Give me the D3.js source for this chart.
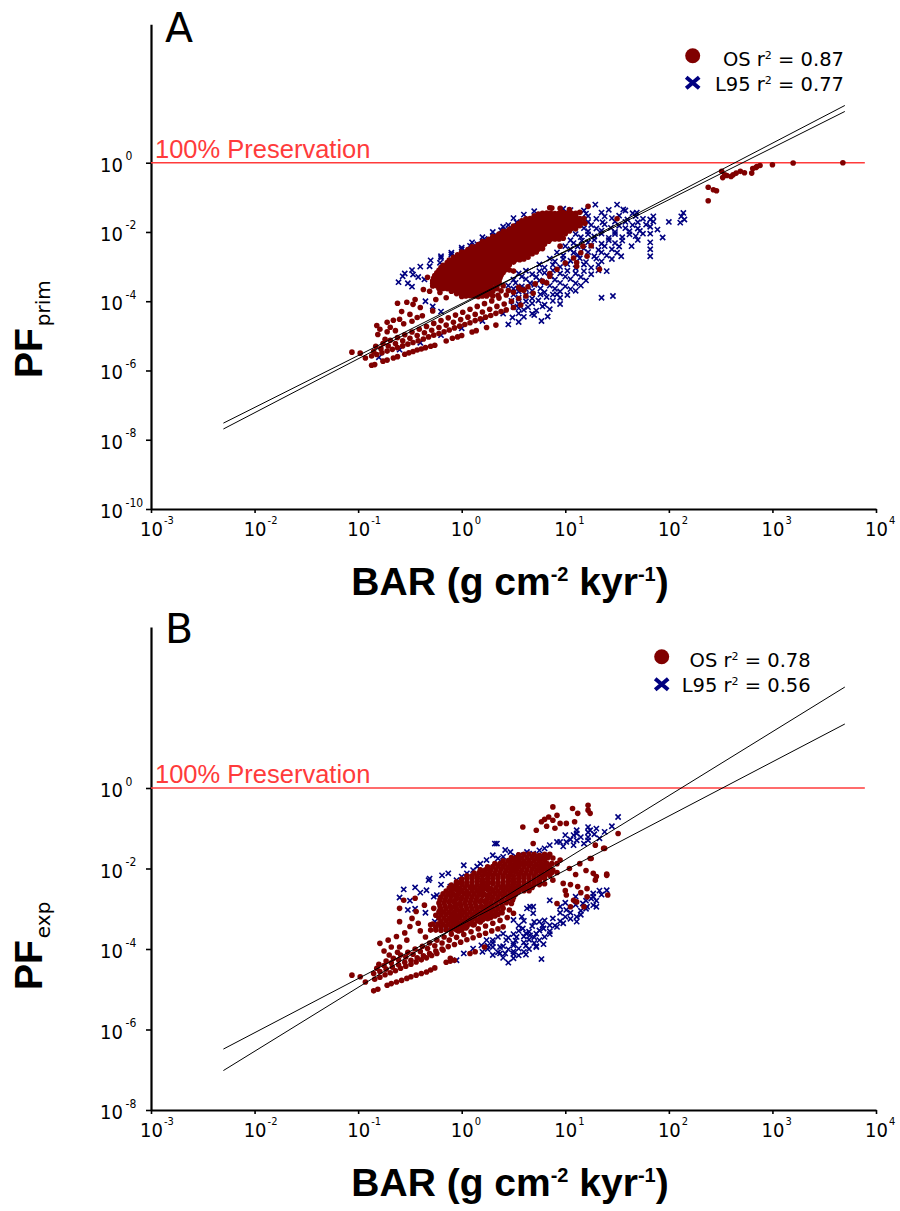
<!DOCTYPE html>
<html>
<head>
<meta charset="utf-8">
<script src="https://cdn.jsdelivr.net/npm/d3@7"></script>
<style>
  body { margin: 0; background: #fff; }
  svg text { font-family: "DejaVu Sans", sans-serif; }
</style>
</head>
<body>
<div id="app"></div>
<script>
// log10 exponents used for the ticks
const xTickExps = [-3, -2, -1, 0, 1, 2, 3, 4];
const yTickExpsPrim = [-10, -8, -6, -4, -2, 0];
const yTickExpsExp = [-8, -6, -4, -2, 0];

// regression lines: [slope, intercept] in log10(PF) = intercept + slope * log10(BAR)
const fitsPrim = [[1.500, -4.069], [1.557, -4.107]];
const fitsExp = [[1.588, -3.366], [1.346, -3.389]];
const fitRange = [0.005, 5000];
const preservationRange = [0.001, 7800];

const legendPrim = [['OS', '0.87'], ['L95', '0.77']];
const legendExp = [['OS', '0.78'], ['L95', '0.56']];

// points, [log10 BAR, log10 PF]
const osPrim = [
  [-1.06,-5.47],[-0.98,-5.50],[-0.93,-5.64],
  [-0.87,-5.85],[-0.84,-5.83],[-0.76,-5.73],[-0.72,-5.70],[-0.66,-5.64],[-0.62,-5.60],[-0.55,-5.53],[-0.51,-5.49],
  [-0.47,-5.45],[-0.43,-5.41],[-0.39,-5.38],[-0.35,-5.34],[-0.30,-5.30],[-0.26,-5.27],[-0.15,-5.15],[-0.09,-5.07],
  [-0.04,-5.03],[0.00,-4.99],[0.10,-4.89],[0.14,-4.85],[0.24,-4.76],[0.33,-4.69],
  [-0.87,-5.58],[-0.82,-5.54],[-0.77,-5.49],[-0.72,-5.44],[-0.67,-5.39],[-0.62,-5.34],[-0.57,-5.29],[-0.52,-5.24],
  [-0.47,-5.19],[-0.42,-5.14],[-0.37,-5.09],[-0.32,-5.03],[-0.27,-4.98],[-0.22,-4.93],[-0.17,-4.88],[-0.12,-4.83],
  [-0.07,-4.77],[-0.02,-4.72],[0.03,-4.67],[0.08,-4.62],[0.13,-4.56],[0.18,-4.51],[0.23,-4.46],[0.28,-4.41],
  [0.33,-4.35],[0.38,-4.30],[0.43,-4.25],[0.50,-4.18],[0.57,-4.11],
  [-0.85,-5.45],[-0.78,-5.37],[-0.71,-5.29],[-0.64,-5.22],[-0.57,-5.14],[-0.50,-5.07],[-0.43,-4.99],[-0.36,-4.91],
  [-0.29,-4.84],[-0.22,-4.76],[-0.15,-4.69],[-0.08,-4.61],[-0.01,-4.53],[0.06,-4.46],[0.13,-4.38],[0.20,-4.31],
  [0.27,-4.23],[0.34,-4.15],[0.41,-4.08],[0.48,-4.00],[0.55,-3.92],[0.62,-3.85],[0.69,-3.77],
  [-0.83,-5.30],[-0.76,-5.22],[-0.69,-5.13],[-0.62,-5.05],[-0.55,-4.97],[-0.48,-4.89],[-0.41,-4.81],[-0.34,-4.73],
  [-0.27,-4.64],[-0.20,-4.56],[-0.13,-4.48],[-0.06,-4.40],[0.01,-4.32],[0.08,-4.23],[0.15,-4.15],[0.22,-4.07],
  [0.29,-3.99],[0.36,-3.91],[0.43,-3.82],[0.50,-3.74],[0.57,-3.66],[0.64,-3.58],[0.71,-3.50],[0.78,-3.42],
  [-0.82,-4.70],[-0.72,-4.61],[-0.66,-4.55],[-0.60,-4.52],[-0.62,-4.06],[-0.53,-4.03],[-0.47,-4.09],[-0.40,-4.18],
  [-0.37,-3.66],[-0.31,-3.71],[-0.21,-3.75],[-0.33,-3.31],[-0.79,-4.81],[-0.81,-4.96],[-0.69,-4.75],[-0.64,-4.85],
  [-0.74,-5.10],[-0.50,-4.38],[-0.43,-4.47],[-0.56,-4.65],[-0.48,-4.58],[-0.38,-4.42],[-0.28,-4.28],[-0.72,-4.88],
  [-0.58,-4.30],[-0.45,-3.95],[-0.25,-3.95],[-0.15,-3.90],
  [0.85,-1.30],[0.95,-1.32],[1.04,-1.35],[1.22,-1.26],[0.87,-1.31],[0.92,-1.55],
  [0.74,-1.48],[0.82,-1.45],[0.90,-1.47],[0.98,-1.44],[1.06,-1.46],[1.14,-1.43],
  [0.70,-1.53],[0.78,-1.54],[0.86,-1.52],[0.94,-1.53],[1.02,-1.54],[1.10,-1.52],
  [0.62,-1.62],[0.70,-1.60],[0.78,-1.64],[0.86,-1.60],[0.94,-1.58],[1.02,-1.62],[1.10,-1.59],[1.18,-1.61],[1.50,-1.62],
  [0.58,-1.68],[0.66,-1.69],[0.74,-1.67],[0.82,-1.68],[0.90,-1.69],[0.98,-1.67],[1.06,-1.68],[1.14,-1.69],
  [0.55,-1.76],[0.63,-1.74],[0.71,-1.77],[0.79,-1.75],[0.87,-1.73],[0.95,-1.76],[1.03,-1.74],[1.11,-1.77],[1.19,-1.75],
  [0.50,-1.83],[0.58,-1.84],[0.66,-1.82],[0.74,-1.83],[0.82,-1.84],[0.90,-1.82],[0.98,-1.83],[1.06,-1.84],[1.14,-1.82],
  [0.46,-1.92],[0.54,-1.90],[0.62,-1.88],[0.70,-1.91],[0.78,-1.89],[0.86,-1.92],[0.94,-1.90],[1.02,-1.88],[1.10,-1.91],
  [0.40,-1.98],[0.48,-1.99],[0.56,-1.97],[0.64,-1.98],[0.72,-1.99],[0.80,-1.97],[0.88,-1.98],[0.96,-1.99],[1.04,-1.97],
  [0.36,-2.06],[0.44,-2.04],[0.52,-2.07],[0.60,-2.05],[0.68,-2.03],[0.76,-2.06],[0.84,-2.04],[0.92,-2.07],[1.00,-2.05],
  [0.30,-2.13],[0.38,-2.14],[0.46,-2.12],[0.54,-2.13],[0.62,-2.14],[0.70,-2.12],[0.78,-2.13],[0.86,-2.14],[0.94,-2.12],
  [0.26,-2.21],[0.34,-2.19],[0.42,-2.22],[0.50,-2.20],[0.58,-2.18],[0.66,-2.21],[0.74,-2.19],[0.82,-2.22],[0.90,-2.20],[0.98,-2.18],
  [0.20,-2.28],[0.28,-2.29],[0.36,-2.27],[0.44,-2.28],[0.52,-2.29],[0.60,-2.27],[0.68,-2.28],[0.76,-2.29],[0.84,-2.27],
  [0.16,-2.36],[0.24,-2.34],[0.32,-2.37],[0.40,-2.35],[0.48,-2.33],[0.56,-2.36],[0.64,-2.34],[0.72,-2.37],[0.80,-2.35],[0.95,-2.41],[1.17,-2.41],
  [0.10,-2.43],[0.18,-2.44],[0.26,-2.42],[0.34,-2.43],[0.42,-2.44],[0.50,-2.42],[0.58,-2.43],[0.66,-2.44],[0.74,-2.42],
  [0.06,-2.51],[0.14,-2.49],[0.22,-2.52],[0.30,-2.50],[0.38,-2.48],[0.46,-2.51],[0.54,-2.49],[0.62,-2.52],[0.70,-2.50],[0.78,-2.48],
  [0.00,-2.58],[0.08,-2.59],[0.16,-2.57],[0.24,-2.58],[0.32,-2.59],[0.40,-2.57],[0.48,-2.58],[0.56,-2.59],[0.64,-2.57],[0.72,-2.58],
  [-0.04,-2.66],[0.04,-2.64],[0.12,-2.67],[0.20,-2.65],[0.28,-2.63],[0.36,-2.66],[0.44,-2.64],[0.52,-2.67],[0.60,-2.65],[0.68,-2.63],[1.21,-2.70],
  [-0.08,-2.73],[0.00,-2.74],[0.08,-2.72],[0.16,-2.73],[0.24,-2.74],[0.32,-2.72],[0.40,-2.73],[0.48,-2.74],[0.56,-2.72],[0.64,-2.73],
  [-0.12,-2.81],[-0.04,-2.79],[0.04,-2.82],[0.12,-2.80],[0.20,-2.78],[0.28,-2.81],[0.36,-2.79],[0.44,-2.82],[0.52,-2.80],[0.60,-2.78],
  [-0.14,-2.88],[-0.06,-2.89],[0.02,-2.87],[0.10,-2.88],[0.18,-2.89],[0.26,-2.87],[0.34,-2.88],[0.42,-2.89],[0.50,-2.87],
  [-0.18,-2.96],[-0.10,-2.94],[-0.02,-2.97],[0.06,-2.95],[0.14,-2.93],[0.22,-2.96],[0.30,-2.94],[0.38,-2.97],[0.46,-2.95],[1.11,-2.99],
  [-0.20,-3.03],[-0.12,-3.04],[-0.04,-3.02],[0.04,-3.03],[0.12,-3.04],[0.20,-3.02],[0.28,-3.03],[0.36,-3.04],[0.44,-3.02],
  [-0.22,-3.11],[-0.14,-3.09],[-0.06,-3.12],[0.02,-3.10],[0.10,-3.08],[0.18,-3.11],[0.26,-3.09],[0.34,-3.12],[0.42,-3.10],[0.50,-3.13],[1.33,-3.08],
  [-0.24,-3.18],[-0.16,-3.19],[-0.08,-3.17],[0.00,-3.18],[0.08,-3.19],[0.16,-3.17],[0.24,-3.18],[0.32,-3.19],[0.40,-3.17],
  [-0.26,-3.26],[-0.18,-3.24],[-0.10,-3.27],[-0.02,-3.25],[0.06,-3.23],[0.14,-3.26],[0.22,-3.24],[0.30,-3.27],[0.38,-3.25],[0.85,-3.28],
  [-0.27,-3.33],[-0.19,-3.34],[-0.11,-3.32],[-0.03,-3.33],[0.05,-3.34],[0.13,-3.32],[0.21,-3.33],[0.29,-3.34],[0.37,-3.32],
  [-0.28,-3.41],[-0.20,-3.39],[-0.12,-3.42],[-0.04,-3.40],[0.04,-3.38],[0.12,-3.41],[0.20,-3.39],[0.28,-3.42],[0.36,-3.40],[0.82,-3.47],
  [-0.28,-3.48],[-0.20,-3.49],[-0.12,-3.47],[-0.04,-3.48],[0.04,-3.49],[0.12,-3.47],[0.20,-3.48],[0.28,-3.49],[0.36,-3.47],
  [-0.28,-3.56],[-0.20,-3.54],[-0.12,-3.57],[-0.04,-3.55],[0.04,-3.53],[0.12,-3.56],[0.20,-3.54],[0.28,-3.57],[0.40,-3.55],[0.55,-3.60],
  [-0.22,-3.63],[-0.14,-3.64],[-0.06,-3.62],[0.02,-3.63],[0.10,-3.64],[0.18,-3.62],[0.26,-3.63],[0.34,-3.64],
  [-0.10,-3.71],[-0.02,-3.69],[0.06,-3.72],[0.14,-3.70],[0.22,-3.68],[0.30,-3.71],[0.45,-3.69],[0.60,-3.68],
  [-0.05,-3.78],[0.03,-3.79],[0.11,-3.77],[0.19,-3.78],[0.27,-3.79],
  [0.00,-3.86],[0.08,-3.84],[0.16,-3.87],[0.24,-3.85],[0.35,-3.83],
  // filling the dense core between the points above
  [0.78,-1.46],[0.86,-1.46],[0.94,-1.46],[1.02,-1.46],[1.10,-1.46],
  [0.74,-1.53],[0.82,-1.53],[0.90,-1.53],[0.98,-1.53],[1.06,-1.53],
  [0.66,-1.61],[0.74,-1.61],[0.82,-1.61],[0.90,-1.61],[0.98,-1.61],[1.06,-1.61],[1.14,-1.61],
  [0.62,-1.68],[0.70,-1.68],[0.78,-1.68],[0.86,-1.68],[0.94,-1.68],[1.02,-1.68],[1.10,-1.68],
  [0.59,-1.75],[0.67,-1.75],[0.75,-1.75],[0.83,-1.75],[0.91,-1.75],[0.99,-1.75],[1.07,-1.75],[1.15,-1.75],
  [0.54,-1.83],[0.62,-1.83],[0.70,-1.83],[0.78,-1.83],[0.86,-1.83],[0.94,-1.83],[1.02,-1.83],[1.10,-1.83],
  [0.50,-1.90],[0.58,-1.90],[0.66,-1.90],[0.74,-1.90],[0.82,-1.90],[0.90,-1.90],[0.98,-1.90],[1.06,-1.90],
  [0.44,-1.98],[0.52,-1.98],[0.60,-1.98],[0.68,-1.98],[0.76,-1.98],[0.84,-1.98],[0.92,-1.98],[1.00,-1.98],
  [0.40,-2.05],[0.48,-2.05],[0.56,-2.05],[0.64,-2.05],[0.72,-2.05],[0.80,-2.05],[0.88,-2.05],[0.96,-2.05],
  [0.34,-2.13],[0.42,-2.13],[0.50,-2.13],[0.58,-2.13],[0.66,-2.13],[0.74,-2.13],[0.82,-2.13],[0.90,-2.13],
  [0.30,-2.20],[0.38,-2.20],[0.46,-2.20],[0.54,-2.20],[0.62,-2.20],[0.70,-2.20],[0.78,-2.20],[0.86,-2.20],[0.94,-2.20],
  [0.24,-2.28],[0.32,-2.28],[0.40,-2.28],[0.48,-2.28],[0.56,-2.28],[0.64,-2.28],[0.72,-2.28],[0.80,-2.28],
  [0.20,-2.35],[0.28,-2.35],[0.36,-2.35],[0.44,-2.35],[0.52,-2.35],[0.60,-2.35],[0.68,-2.35],[0.76,-2.35],
  [0.14,-2.43],[0.22,-2.43],[0.30,-2.43],[0.38,-2.43],[0.46,-2.43],[0.54,-2.43],[0.62,-2.43],[0.70,-2.43],
  [0.10,-2.50],[0.18,-2.50],[0.26,-2.50],[0.34,-2.50],[0.42,-2.50],[0.50,-2.50],[0.58,-2.50],[0.66,-2.50],[0.74,-2.50],
  [0.04,-2.58],[0.12,-2.58],[0.20,-2.58],[0.28,-2.58],[0.36,-2.58],[0.44,-2.58],[0.52,-2.58],[0.60,-2.58],[0.68,-2.58],
  [0.00,-2.65],[0.08,-2.65],[0.16,-2.65],[0.24,-2.65],[0.32,-2.65],[0.40,-2.65],[0.48,-2.65],[0.56,-2.65],[0.64,-2.65],
  [-0.04,-2.73],[0.04,-2.73],[0.12,-2.73],[0.20,-2.73],[0.28,-2.73],[0.36,-2.73],[0.44,-2.73],[0.52,-2.73],[0.60,-2.73],
  [-0.08,-2.80],[0.00,-2.80],[0.08,-2.80],[0.16,-2.80],[0.24,-2.80],[0.32,-2.80],[0.40,-2.80],[0.48,-2.80],[0.56,-2.80],
  [-0.10,-2.88],[-0.02,-2.88],[0.06,-2.88],[0.14,-2.88],[0.22,-2.88],[0.30,-2.88],[0.38,-2.88],[0.46,-2.88],
  [-0.14,-2.95],[-0.06,-2.95],[0.02,-2.95],[0.10,-2.95],[0.18,-2.95],[0.26,-2.95],[0.34,-2.95],[0.42,-2.95],
  [-0.16,-3.03],[-0.08,-3.03],[0.00,-3.03],[0.08,-3.03],[0.16,-3.03],[0.24,-3.03],[0.32,-3.03],[0.40,-3.03],
  [-0.18,-3.10],[-0.10,-3.10],[-0.02,-3.10],[0.06,-3.10],[0.14,-3.10],[0.22,-3.10],[0.30,-3.10],[0.38,-3.10],[0.46,-3.10],
  [-0.20,-3.18],[-0.12,-3.18],[-0.04,-3.18],[0.04,-3.18],[0.12,-3.18],[0.20,-3.18],[0.28,-3.18],[0.36,-3.18],
  [-0.22,-3.25],[-0.14,-3.25],[-0.06,-3.25],[0.02,-3.25],[0.10,-3.25],[0.18,-3.25],[0.26,-3.25],[0.34,-3.25],
  [-0.23,-3.33],[-0.15,-3.33],[-0.07,-3.33],[0.01,-3.33],[0.09,-3.33],[0.17,-3.33],[0.25,-3.33],[0.33,-3.33],
  [-0.24,-3.40],[-0.16,-3.40],[-0.08,-3.40],[0.00,-3.40],[0.08,-3.40],[0.16,-3.40],[0.24,-3.40],[0.32,-3.40],
  [-0.24,-3.48],[-0.16,-3.48],[-0.08,-3.48],[0.00,-3.48],[0.08,-3.48],[0.16,-3.48],[0.24,-3.48],[0.32,-3.48],
  [-0.24,-3.55],[-0.16,-3.55],[-0.08,-3.55],[0.00,-3.55],[0.08,-3.55],[0.16,-3.55],[0.24,-3.55],[0.34,-3.55],
  [-0.18,-3.63],[-0.10,-3.63],[-0.02,-3.63],[0.06,-3.63],[0.14,-3.63],[0.22,-3.63],[0.30,-3.63],
  [-0.06,-3.70],[0.02,-3.70],[0.10,-3.70],[0.18,-3.70],[0.26,-3.70],[0.38,-3.70],
  [-0.01,-3.78],[0.07,-3.78],[0.15,-3.78],[0.23,-3.78],
  [0.04,-3.85],[0.12,-3.85],[0.20,-3.85],[0.30,-3.85],
  [0.85,-3.20],[0.92,-3.08],[1.00,-2.90],[1.08,-2.75],[1.15,-2.60],[1.25,-2.40],
  [0.59,-1.79],[0.72,-1.93],[1.11,-2.88],
  [2.38,-0.71],[2.38,-1.10],[2.43,-0.78],[2.46,-0.81],[2.51,-0.25],[2.52,-0.43],[2.54,-0.35],[2.56,-0.37],[2.60,-0.40],
  [2.62,-0.35],[2.65,-0.30],[2.69,-0.25],[2.73,-0.29],[2.80,-0.30],[2.81,-0.17],[2.84,-0.14],[2.85,-0.11],[2.88,-0.08],
  [3.00,-0.06],[3.20,-0.01],[3.68,0.00]
];

const l95Prim = [
  [-0.61,-3.45],[-0.57,-3.28],[-0.47,-3.23],[-0.36,-3.37],[-0.31,-2.99],[-0.21,-2.89],[-0.10,-2.82],[0.01,-2.65],
  [0.32,-2.12],[0.53,-1.72],[0.53,-2.03],[0.77,-4.57],[0.83,-4.44],[0.49,-4.47],[0.45,-4.67],
  [0.98,-1.33],[1.29,-1.21],[1.50,-1.21],[1.56,-1.35],[1.69,-1.44],[0.30,-2.12],[0.15,-2.35],[0.20,-2.42],
  [1.82,-1.64],[1.82,-1.85],[1.82,-2.05],[1.82,-2.30],[1.82,-2.50],[1.82,-2.70],[1.94,-2.16],[1.89,-1.93],
  [2.14,-1.45],[2.15,-1.64],[2.11,-1.73],[2.12,-1.55],[1.64,-2.41],[1.46,-3.85],[1.40,-3.13],[1.54,-2.70],[0.92,-3.80],
  [1.00,-1.45],[1.20,-1.47],[1.35,-1.44],[1.65,-1.46],
  [1.05,-1.37],[1.18,-1.38],[1.42,-1.36],[1.58,-1.38],
  [1.30,-1.62],[1.45,-1.60],[1.60,-1.64],[1.75,-1.62],
  [1.22,-1.54],[1.38,-1.55],[1.52,-1.53],[1.68,-1.54],[1.85,-1.55],
  [1.22,-1.71],[1.36,-1.72],[1.48,-1.70],[1.58,-1.71],[1.70,-1.72],[1.85,-1.70],[2.00,-1.71],
  [1.25,-1.80],[1.38,-1.78],[1.52,-1.82],[1.65,-1.80],[1.78,-1.79],[0.45,-1.80],[0.38,-1.95],
  [1.18,-1.89],[1.30,-1.90],[1.44,-1.88],[1.58,-1.89],[1.70,-1.90],
  [1.22,-1.98],[1.35,-1.96],[1.48,-2.00],[1.62,-1.98],[1.72,-1.97],
  [1.10,-2.06],[1.22,-2.07],[1.35,-2.05],[1.48,-2.06],[1.62,-2.07],[1.75,-2.05],
  [1.15,-2.15],[1.28,-2.13],[1.42,-2.17],[1.55,-2.15],[1.68,-2.12],[0.22,-2.20],
  [1.05,-2.24],[1.16,-2.25],[1.28,-2.23],[1.42,-2.24],[1.55,-2.25],[1.70,-2.23],
  [1.08,-2.32],[1.22,-2.30],[1.35,-2.34],[1.48,-2.32],[0.08,-2.40],[0.00,-2.50],
  [1.00,-2.41],[1.12,-2.42],[1.25,-2.40],[1.38,-2.41],[1.52,-2.42],
  [1.05,-2.50],[1.18,-2.48],[1.32,-2.52],[1.45,-2.50],[-0.10,-2.60],
  [0.92,-2.59],[1.08,-2.60],[1.22,-2.58],[1.35,-2.59],[1.50,-2.60],
  [0.98,-2.68],[1.12,-2.66],[1.28,-2.70],[1.40,-2.68],[-0.20,-2.70],
  [0.85,-2.77],[0.98,-2.78],[1.14,-2.76],[1.30,-2.77],[1.45,-2.78],
  [0.90,-2.85],[1.05,-2.83],[1.20,-2.87],[1.35,-2.85],[-0.30,-2.82],[-0.40,-3.00],
  [0.75,-2.94],[0.88,-2.95],[1.02,-2.93],[1.18,-2.94],[1.32,-2.95],
  [0.80,-3.03],[0.95,-3.01],[1.10,-3.05],[1.25,-3.03],[-0.48,-3.10],
  [0.62,-3.12],[0.75,-3.13],[0.88,-3.11],[1.02,-3.12],[1.18,-3.13],[1.32,-3.11],
  [0.55,-3.20],[0.68,-3.22],[0.80,-3.18],[0.95,-3.20],[1.10,-3.20],[1.25,-3.22],[-0.55,-3.20],[-0.42,-3.30],
  [0.58,-3.29],[0.72,-3.30],[0.86,-3.28],[1.00,-3.29],[1.15,-3.30],
  [0.50,-3.38],[0.62,-3.36],[0.75,-3.40],[0.90,-3.38],[1.05,-3.36],[1.20,-3.40],[-0.52,-3.48],
  [0.52,-3.47],[0.66,-3.48],[0.80,-3.46],[0.95,-3.47],[1.10,-3.48],
  [0.45,-3.55],[0.58,-3.57],[0.70,-3.53],[0.85,-3.55],[1.00,-3.57],[1.15,-3.55],[-0.48,-3.58],
  [0.50,-3.64],[0.62,-3.65],[0.76,-3.63],[0.90,-3.64],[1.05,-3.65],
  [0.55,-3.72],[0.68,-3.70],[0.80,-3.74],[0.95,-3.72],[1.10,-3.70],
  [0.50,-3.81],[0.62,-3.82],[0.76,-3.80],[0.88,-3.81],[1.02,-3.82],
  [0.55,-3.90],[0.68,-3.92],[0.82,-3.88],[0.95,-3.90],[1.35,-3.90],[-0.35,-4.00],
  [0.48,-3.99],[0.62,-4.00],[0.74,-3.98],[0.88,-3.99],
  [0.55,-4.08],[0.68,-4.06],[0.80,-4.10],[0.95,-4.08],[-0.28,-4.15],
  [0.50,-4.16],[0.64,-4.17],[0.78,-4.15],
  [0.60,-4.25],[0.72,-4.27],[0.85,-4.23],[-0.20,-4.30],
  [0.55,-4.35],[0.68,-4.36],
  [0.60,-4.45],[0.70,-4.40],[0.55,-4.60],
  [-0.20,-2.75],[-0.10,-2.65],[0.00,-2.45],[0.10,-2.30],[0.20,-2.15],[0.30,-2.00],[0.40,-1.85],[0.50,-1.60],[0.60,-1.50],[0.70,-1.40],
  [-0.80,-5.62],[-0.60,-5.40],[-0.40,-5.20],[-0.20,-4.98],[0.00,-4.78],[0.20,-4.57],[0.40,-4.36],[0.55,-4.20]
];

const osExp = [
  [-1.06,-4.65],[-0.98,-4.69],[-0.93,-4.82],
  [-0.85,-5.04],[-0.81,-5.00],[-0.72,-4.90],[-0.68,-4.86],[-0.63,-4.82],[-0.58,-4.78],[-0.53,-4.73],[-0.49,-4.69],
  [-0.44,-4.65],[-0.39,-4.61],[-0.34,-4.57],[-0.30,-4.52],[-0.26,-4.47],[-0.15,-4.33],[-0.11,-4.30],[-0.07,-4.28],
  [0.08,-4.11],[0.13,-4.07],
  [-0.84,-4.75],[-0.79,-4.70],[-0.74,-4.64],[-0.69,-4.59],[-0.64,-4.54],[-0.59,-4.48],[-0.54,-4.43],[-0.49,-4.38],
  [-0.44,-4.32],[-0.39,-4.27],[-0.34,-4.22],[-0.29,-4.16],[-0.24,-4.11],[-0.18,-4.03],
  [-0.85,-4.61],[-0.79,-4.56],[-0.73,-4.50],[-0.67,-4.45],[-0.61,-4.39],[-0.55,-4.33],[-0.49,-4.28],[-0.43,-4.22],
  [-0.37,-4.17],[-0.31,-4.11],[-0.25,-4.05],[-0.19,-4.00],[-0.13,-3.94],[-0.07,-3.89],[-0.01,-3.83],[0.05,-3.77],
  [0.11,-3.72],[0.17,-3.66],[0.23,-3.61],[0.29,-3.55],[0.35,-3.50],[0.40,-3.45],
  [-0.82,-4.48],[-0.75,-4.41],[-0.68,-4.34],[-0.61,-4.27],[-0.54,-4.20],[-0.47,-4.13],[-0.40,-4.06],[-0.33,-3.99],
  [-0.26,-3.92],[-0.19,-3.85],[-0.12,-3.78],[-0.05,-3.71],[0.02,-3.64],[0.09,-3.57],[0.16,-3.50],[0.23,-3.43],
  [0.30,-3.36],[0.37,-3.29],[0.44,-3.22],
  [-0.80,-4.38],[-0.73,-4.30],[-0.66,-4.23],[-0.59,-4.15],[-0.52,-4.08],[-0.45,-4.00],[-0.38,-3.93],[-0.31,-3.85],
  [-0.24,-3.78],[-0.17,-3.70],[-0.10,-3.63],[-0.03,-3.55],[0.04,-3.48],[0.11,-3.40],[0.18,-3.33],[0.25,-3.25],
  [0.32,-3.18],[0.39,-3.10],[0.46,-3.03],[0.50,-3.11],
  [-0.79,-3.86],[-0.71,-3.78],[-0.63,-3.69],[-0.60,-3.95],[-0.53,-3.78],[-0.50,-3.44],[-0.42,-3.36],[-0.44,-3.07],
  [-0.60,-3.32],[-0.48,-3.24],[-0.60,-2.99],[-0.45,-2.74],[-0.56,-2.79],[-0.36,-2.91],[-0.27,-2.99],[-0.21,-3.03],
  [-0.75,-4.05],[-0.68,-3.95],[-0.70,-4.15],[-0.62,-4.08],[-0.55,-3.60],[-0.40,-3.55],[-0.35,-3.70],[-0.30,-3.40],
  [-0.11,-4.23],[0.22,-3.95],
  [0.88,-0.47],[1.07,-0.51],[1.12,-0.63],[1.22,-0.43],[1.24,-0.63],[1.22,-0.55],[0.59,-0.97],[0.77,-0.84],
  [0.84,-0.72],[0.80,-0.78],[0.88,-0.80],[0.95,-0.88],[1.01,-0.88],[1.09,-0.84],[0.72,-1.05],[0.92,-0.68],
  [0.82,-0.95],[0.90,-1.00],[0.69,-1.38],
  [1.51,-1.13],[1.38,-1.50],[1.25,-1.75],[1.27,-2.12],[1.40,-2.14],[1.40,-2.17],[1.29,-2.29],[1.21,-2.50],
  [1.12,-2.45],[1.01,-2.66],[0.92,-2.87],[1.08,-2.79],[1.21,-2.70],[0.98,-2.37],[0.88,-2.29],[1.14,-1.88],
  [1.04,-2.00],[0.95,-1.79],[1.29,-1.42],[1.37,-1.50],[1.24,-1.75],[1.41,-2.66],[1.11,-2.83],[1.00,-2.55],
  [1.15,-2.60],[1.05,-2.40],[1.20,-2.05],[1.10,-2.15],[1.30,-2.20],[1.18,-2.95],[1.05,-2.95],
  [0.55,-1.66],[0.65,-1.64],[0.75,-1.67],[0.85,-1.65],
  [0.48,-1.73],[0.58,-1.74],[0.68,-1.72],[0.78,-1.73],[0.88,-1.74],
  [0.40,-1.81],[0.50,-1.79],[0.60,-1.82],[0.70,-1.80],[0.80,-1.78],
  [0.32,-1.88],[0.42,-1.89],[0.52,-1.87],[0.62,-1.88],[0.72,-1.89],[0.82,-1.87],[0.92,-1.88],
  [0.25,-1.96],[0.35,-1.94],[0.45,-1.97],[0.55,-1.95],[0.65,-1.93],[0.75,-1.96],[0.85,-1.94],
  [0.18,-2.03],[0.28,-2.04],[0.38,-2.02],[0.48,-2.03],[0.58,-2.04],[0.68,-2.02],[0.78,-2.03],[0.88,-2.04],
  [0.12,-2.11],[0.22,-2.09],[0.32,-2.12],[0.42,-2.10],[0.52,-2.08],[0.62,-2.11],[0.72,-2.09],[0.82,-2.12],[0.92,-2.10],
  [0.05,-2.18],[0.15,-2.19],[0.25,-2.17],[0.35,-2.18],[0.45,-2.19],[0.55,-2.17],[0.65,-2.18],[0.75,-2.19],[0.85,-2.17],
  [0.00,-2.26],[0.10,-2.24],[0.20,-2.27],[0.30,-2.25],[0.40,-2.23],[0.50,-2.26],[0.60,-2.24],[0.70,-2.27],[0.80,-2.25],
  [-0.05,-2.33],[0.05,-2.34],[0.15,-2.32],[0.25,-2.33],[0.35,-2.34],[0.45,-2.32],[0.55,-2.33],[0.65,-2.34],[0.75,-2.32],
  [-0.10,-2.41],[0.00,-2.39],[0.10,-2.42],[0.20,-2.40],[0.30,-2.38],[0.40,-2.41],[0.50,-2.39],[0.60,-2.42],[0.70,-2.40],[0.80,-2.38],
  [-0.12,-2.48],[-0.02,-2.49],[0.08,-2.47],[0.18,-2.48],[0.28,-2.49],[0.38,-2.47],[0.48,-2.48],[0.58,-2.49],[0.68,-2.47],
  [-0.15,-2.56],[-0.05,-2.54],[0.05,-2.57],[0.15,-2.55],[0.25,-2.53],[0.35,-2.56],[0.45,-2.54],[0.55,-2.57],[0.65,-2.55],
  [-0.18,-2.63],[-0.08,-2.64],[0.02,-2.62],[0.12,-2.63],[0.22,-2.64],[0.32,-2.62],[0.42,-2.63],[0.52,-2.64],
  [-0.20,-2.71],[-0.10,-2.69],[0.00,-2.72],[0.10,-2.70],[0.20,-2.68],[0.30,-2.71],[0.40,-2.69],[0.50,-2.72],
  [-0.21,-2.78],[-0.11,-2.79],[-0.01,-2.77],[0.09,-2.78],[0.19,-2.79],[0.29,-2.77],[0.39,-2.78],[0.49,-2.79],
  [-0.22,-2.86],[-0.12,-2.84],[-0.02,-2.87],[0.08,-2.85],[0.18,-2.83],[0.28,-2.86],[0.38,-2.84],[0.48,-2.87],
  [-0.21,-2.93],[-0.11,-2.94],[-0.01,-2.92],[0.09,-2.93],[0.19,-2.94],[0.29,-2.92],[0.39,-2.93],
  [-0.20,-3.01],[-0.10,-2.99],[0.00,-3.02],[0.10,-3.00],[0.20,-2.98],[0.30,-3.01],[0.40,-2.99],
  [-0.22,-3.08],[-0.12,-3.09],[-0.02,-3.07],[0.08,-3.08],[0.18,-3.09],[0.28,-3.07],[0.38,-3.08],
  [-0.25,-3.16],[-0.15,-3.14],[-0.05,-3.17],[0.05,-3.15],[0.15,-3.13],[0.25,-3.16],[0.35,-3.14],
  [-0.22,-3.23],[-0.12,-3.24],[-0.02,-3.22],[0.08,-3.23],[0.18,-3.24],[0.28,-3.22],
  [-0.20,-3.31],[-0.10,-3.29],[0.00,-3.32],[0.10,-3.30],[0.20,-3.28],
  [-0.28,-3.38],[-0.18,-3.39],[-0.08,-3.37],[0.02,-3.38],[0.12,-3.39],
  [-0.25,-3.46],[-0.15,-3.44],[-0.05,-3.47],[0.05,-3.45],
  [-0.30,-3.53],[-0.20,-3.54],[-0.10,-3.52],[0.00,-3.53],
  // filling the dense core between the points above
  [0.60,-1.65],[0.70,-1.65],[0.80,-1.65],
  [0.53,-1.73],[0.63,-1.73],[0.73,-1.73],[0.83,-1.73],
  [0.45,-1.80],[0.55,-1.80],[0.65,-1.80],[0.75,-1.80],
  [0.37,-1.88],[0.47,-1.88],[0.57,-1.88],[0.67,-1.88],[0.77,-1.88],[0.87,-1.88],
  [0.30,-1.95],[0.40,-1.95],[0.50,-1.95],[0.60,-1.95],[0.70,-1.95],[0.80,-1.95],
  [0.23,-2.03],[0.33,-2.03],[0.43,-2.03],[0.53,-2.03],[0.63,-2.03],[0.73,-2.03],[0.83,-2.03],
  [0.17,-2.10],[0.27,-2.10],[0.37,-2.10],[0.47,-2.10],[0.57,-2.10],[0.67,-2.10],[0.77,-2.10],[0.87,-2.10],
  [0.10,-2.18],[0.20,-2.18],[0.30,-2.18],[0.40,-2.18],[0.50,-2.18],[0.60,-2.18],[0.70,-2.18],[0.80,-2.18],
  [0.05,-2.25],[0.15,-2.25],[0.25,-2.25],[0.35,-2.25],[0.45,-2.25],[0.55,-2.25],[0.65,-2.25],[0.75,-2.25],
  [0.00,-2.33],[0.10,-2.33],[0.20,-2.33],[0.30,-2.33],[0.40,-2.33],[0.50,-2.33],[0.60,-2.33],[0.70,-2.33],
  [-0.05,-2.40],[0.05,-2.40],[0.15,-2.40],[0.25,-2.40],[0.35,-2.40],[0.45,-2.40],[0.55,-2.40],[0.65,-2.40],[0.75,-2.40],
  [-0.07,-2.48],[0.03,-2.48],[0.13,-2.48],[0.23,-2.48],[0.33,-2.48],[0.43,-2.48],[0.53,-2.48],[0.63,-2.48],
  [-0.10,-2.55],[0.00,-2.55],[0.10,-2.55],[0.20,-2.55],[0.30,-2.55],[0.40,-2.55],[0.50,-2.55],[0.60,-2.55],
  [-0.13,-2.63],[-0.03,-2.63],[0.07,-2.63],[0.17,-2.63],[0.27,-2.63],[0.37,-2.63],[0.47,-2.63],
  [-0.15,-2.70],[-0.05,-2.70],[0.05,-2.70],[0.15,-2.70],[0.25,-2.70],[0.35,-2.70],[0.45,-2.70],
  [-0.16,-2.78],[-0.06,-2.78],[0.04,-2.78],[0.14,-2.78],[0.24,-2.78],[0.34,-2.78],[0.44,-2.78],
  [-0.17,-2.85],[-0.07,-2.85],[0.03,-2.85],[0.13,-2.85],[0.23,-2.85],[0.33,-2.85],[0.43,-2.85],
  [-0.16,-2.93],[-0.06,-2.93],[0.04,-2.93],[0.14,-2.93],[0.24,-2.93],[0.34,-2.93],
  [-0.15,-3.00],[-0.05,-3.00],[0.05,-3.00],[0.15,-3.00],[0.25,-3.00],[0.35,-3.00],
  [-0.17,-3.08],[-0.07,-3.08],[0.03,-3.08],[0.13,-3.08],[0.23,-3.08],[0.33,-3.08],
  [-0.20,-3.15],[-0.10,-3.15],[0.00,-3.15],[0.10,-3.15],[0.20,-3.15],[0.30,-3.15],
  [-0.17,-3.23],[-0.07,-3.23],[0.03,-3.23],[0.13,-3.23],[0.23,-3.23],
  [-0.15,-3.30],[-0.05,-3.30],[0.05,-3.30],[0.15,-3.30],
  [-0.23,-3.38],[-0.13,-3.38],[-0.03,-3.38],[0.07,-3.38],
  [-0.20,-3.45],[-0.10,-3.45],[0.00,-3.45],
  [-0.25,-3.53],[-0.15,-3.53],[-0.05,-3.53]
];

const l95Exp = [
  [0.32,-1.38],[0.42,-1.54],[0.02,-1.92],[-0.19,-2.17],[-0.13,-2.12],[-0.32,-2.29],[-0.31,-2.25],[-0.56,-2.52],
  [-0.45,-2.47],[-0.60,-2.72],[-0.52,-3.03],[-0.34,-2.54],[-0.27,-2.70],[-0.24,-2.66],
  [1.51,-0.72],[1.30,-1.01],[1.24,-1.05],[1.38,-1.09],[1.11,-1.05],[1.08,-1.17],[1.01,-1.34],[1.08,-1.42],
  [0.92,-1.34],[1.22,-0.97],[1.22,-1.10],[1.22,-1.22],[1.22,-1.30],[1.11,-1.13],[1.11,-1.30],[1.00,-1.17],
  [0.95,-1.34],[0.34,-1.38],
  [1.15,-1.22],[1.28,-1.15],[1.05,-1.28],[1.18,-1.38],[1.33,-1.25],[0.98,-1.45],[1.45,-0.95],
  [1.40,-2.54],[1.27,-2.70],[1.27,-2.91],[1.21,-2.95],[1.11,-3.32],[1.11,-3.20],[1.01,-3.03],[0.98,-3.36],
  [0.92,-3.45],[0.85,-3.41],[0.79,-3.49],[0.77,-4.25],[0.79,-3.88],[0.72,-3.95],[0.66,-3.66],[0.59,-3.49],
  [0.53,-3.70],[0.50,-3.28],[0.43,-3.78],[0.37,-3.95],[0.42,-4.11],[0.45,-4.34],[0.50,-4.12],[0.37,-4.11],
  [0.30,-3.95],[0.24,-3.78],[0.19,-3.91],[0.11,-3.99],[0.02,-4.11],[-0.05,-4.28],[0.58,-3.20],[0.69,-3.11],
  [0.69,-2.95],[0.63,-2.99],[0.75,-3.32],[0.88,-3.24],[1.27,-2.62],[1.17,-2.87],[0.85,-2.79],[0.66,-2.95],
  [-0.11,-2.45],[0.05,-2.12],[0.18,-1.88],[0.30,-1.67],[0.47,-1.59],[0.63,-1.59],[0.75,-1.55],[0.85,-1.42],
  [-0.05,-2.29],[0.11,-2.04],[0.24,-1.79],[0.40,-1.71],[0.56,-1.67],[0.69,-1.63],
  [-0.20,-2.40],[0.00,-2.20],[0.15,-1.95],[0.35,-1.75],[0.52,-1.70],[0.80,-1.50],[-0.40,-2.60],[-0.50,-2.80],[-0.45,-3.00],
  [0.60,-3.30],[0.70,-3.33],[0.80,-3.29],[0.95,-3.31],
  [0.55,-3.42],[0.68,-3.43],[0.78,-3.41],[0.90,-3.42],
  [0.55,-3.55],[0.65,-3.57],[0.75,-3.54],[0.85,-3.56],
  [0.40,-3.62],[0.50,-3.63],[0.62,-3.61],[0.72,-3.62],[0.85,-3.63],
  [0.35,-3.70],[0.45,-3.72],[0.60,-3.69],[0.70,-3.71],[0.80,-3.70],
  [0.30,-3.78],[0.52,-3.79],[0.65,-3.77],[0.75,-3.78],
  [0.30,-3.85],[0.50,-3.86],[0.60,-3.84],[0.70,-3.85],
  [0.25,-3.92],[0.40,-3.93],[0.50,-3.91],[0.62,-3.92],[0.72,-3.93],
  [0.25,-4.00],[0.45,-4.01],[0.55,-3.99],[0.65,-4.00],
  [0.20,-4.07],[0.35,-4.08],[0.50,-4.06],[0.60,-4.07],
  [0.30,-4.15],[0.55,-4.16],[0.62,-4.14],[0.40,-4.22],[0.50,-4.23],
  [0.95,-2.95],[1.05,-3.10],[1.15,-3.05],[1.20,-2.80],[1.10,-2.70],[1.00,-3.20],[1.30,-2.80],[1.33,-2.55],
  [1.00,-2.85],[1.10,-2.90],[1.25,-2.75],[1.35,-2.65],[1.05,-3.25],[1.15,-3.15],[0.95,-3.10],[1.20,-3.00],[1.30,-2.95],
  [-0.26,-3.32],[-0.15,-3.45],[-0.35,-3.10]
];

const WIDTH = 900;
const HEIGHT = 1211;
const RED = '#800000';
const BLUE = '#000080';
const PRES = '#ff3b3b';
const TICK_FONT = '"DejaVu Sans Condensed", "DejaVu Sans", sans-serif';

const svg = d3.select('#app')
  .append('svg')
    .attr('width', WIDTH)
    .attr('height', HEIGHT);

const x = d3.scaleLog().domain([1e-3, 1e4]).range([151, 876]);

function drawPanel(cfg) {
  const y = d3.scaleLog().domain(cfg.yDomain).range(cfg.yRange);
  const g = svg.append('g');

  // y axis with 10^n labels
  const yAxis = g.append('g')
    .attr('transform', `translate(${x.range()[0]},0)`)
    .call(d3.axisLeft(y)
      .tickValues(cfg.yTicks.map(e => Math.pow(10, e)))
      .tickSize(5).tickSizeOuter(0)
      .tickFormat(''));
  yAxis.select('.domain').attr('stroke-width', 2.2);
  yAxis.selectAll('.tick line').attr('stroke-width', 1.6);
  yAxis.selectAll('.tick').each(function (v) {
    const e = Math.round(Math.log10(v));
    const t = d3.select(this);
    t.append('text')
      .attr('x', -28).attr('y', 8.5)
      .attr('text-anchor', 'end')
      .style('font-family', TICK_FONT)
      .attr('font-size', 20).attr('fill', '#000')
      .text('10');
    t.append('text')
      .attr('x', -25.5).attr('y', -3)
      .attr('text-anchor', 'start')
      .style('font-family', TICK_FONT)
      .attr('font-size', 12).attr('fill', '#000')
      .text(e);
  });

  // x axis
  const xAxis = g.append('g')
    .attr('transform', `translate(0,${cfg.yRange[0]})`)
    .call(d3.axisBottom(x)
      .tickValues(xTickExps.map(e => Math.pow(10, e)))
      .tickSize(4).tickSizeOuter(0)
      .tickFormat(''));
  xAxis.select('.domain').attr('stroke-width', 2.2);
  xAxis.selectAll('.tick line').attr('stroke-width', 1.6);
  xAxis.selectAll('.tick').each(function (v) {
    const e = Math.round(Math.log10(v));
    const t = d3.select(this);
    t.append('text')
      .attr('x', 0).attr('y', 27)
      .attr('text-anchor', 'middle')
      .style('font-family', TICK_FONT)
      .attr('font-size', 20).attr('fill', '#000')
      .text('10');
    t.append('text')
      .attr('x', 12.5).attr('y', 15)
      .attr('text-anchor', 'start')
      .style('font-family', TICK_FONT)
      .attr('font-size', 11).attr('fill', '#000')
      .text(e);
  });

  // 100% preservation line
  const yPres = y(1);
  g.append('line')
    .attr('x1', x(preservationRange[0])).attr('x2', x(preservationRange[1]))
    .attr('y1', yPres).attr('y2', yPres)
    .attr('stroke', PRES).attr('stroke-width', 1.6);
  g.append('text')
    .attr('x', 155).attr('y', yPres - 4.7)
    .style('font-family', '"Liberation Sans", Arial, sans-serif')
    .attr('font-size', 25.5).attr('fill', PRES)
    .text('100% Preservation');

  // L95 crosses then OS dots
  g.append('g').selectAll('path')
    .data(cfg.l95)
    .enter()
    .append('path')
      .attr('transform', d => `translate(${x(Math.pow(10, d[0]))},${y(Math.pow(10, d[1]))})`)
      .attr('d', 'M-2.6,-2.6L2.6,2.6M-2.6,2.6L2.6,-2.6')
      .attr('stroke', BLUE).attr('stroke-width', 1.6).attr('fill', 'none');

  g.append('g').selectAll('circle')
    .data(cfg.os)
    .enter()
    .append('circle')
      .attr('cx', d => x(Math.pow(10, d[0])))
      .attr('cy', d => y(Math.pow(10, d[1])))
      .attr('r', 2.8)
      .attr('fill', RED);

  // regression lines
  const line = d3.line()
    .x(d => x(d[0]))
    .y(d => y(d[1]));
  cfg.fits.forEach(([slope, icpt]) => {
    const pts = fitRange.map(b => [b, Math.pow(10, icpt + slope * Math.log10(b))]);
    g.append('path')
      .attr('d', line(pts))
      .attr('fill', 'none').attr('stroke', '#000').attr('stroke-width', 1);
  });

  // panel letter
  g.append('text')
    .attr('x', 165).attr('y', cfg.letterY)
    .attr('font-size', 41).attr('fill', '#000')
    .text(cfg.letter);

  // legend
  const lg = cfg.legend;
  cfg.legendItems.forEach(([name, r2], i) => {
    const ty = lg.y + i * lg.dy;
    if (i === 0) {
      g.append('circle')
        .attr('cx', lg.mx).attr('cy', ty - 10).attr('r', 7.5).attr('fill', RED);
    } else {
      g.append('path')
        .attr('transform', `translate(${lg.mx},${ty - 8})`)
        .attr('d', 'M-6.5,-5.5L6.5,5.5M-6.5,5.5L6.5,-5.5')
        .attr('stroke', BLUE).attr('stroke-width', 4).attr('fill', 'none');
    }
    const t = g.append('text')
      .attr('x', lg.right).attr('y', ty)
      .attr('text-anchor', 'end')
      .attr('font-size', 19.5).attr('fill', '#000');
    t.append('tspan').text(`${name} r`);
    t.append('tspan').attr('dy', -7).attr('font-size', 11).text('2');
    t.append('tspan').attr('dy', 7).text(` = ${r2}`);
  });

  // x axis title
  const xt = g.append('text')
    .attr('x', 510).attr('y', cfg.yRange[0] + 86)
    .attr('text-anchor', 'middle')
    .style('font-family', '"Liberation Sans", Arial, sans-serif')
    .attr('font-weight', 'bold').attr('font-size', 39).attr('fill', '#000');
  xt.append('tspan').text('BAR (g cm');
  xt.append('tspan').attr('dy', -14).attr('font-size', 20).text('-2');
  xt.append('tspan').attr('dy', 14).text(' kyr');
  xt.append('tspan').attr('dy', -14).attr('font-size', 20).text('-1');
  xt.append('tspan').attr('dy', 14).text(')');

  // y axis title
  const yt = g.append('text')
    .attr('transform', `translate(42,${cfg.yTitleStart}) rotate(-90)`)
    .attr('fill', '#000');
  yt.append('tspan')
    .style('font-family', '"Liberation Sans", Arial, sans-serif')
    .attr('font-weight', 'bold').attr('font-size', 39)
    .text('PF');
  yt.append('tspan')
    .attr('dy', 8).attr('dx', 2)
    .attr('font-size', 20)
    .text(cfg.sub);
}

drawPanel({
  yDomain: [1e-10, 1e4], yRange: [509, 24.2], yTicks: yTickExpsPrim,
  os: osPrim, l95: l95Prim, fits: fitsPrim,
  letter: 'A', letterY: 41.7,
  legendItems: legendPrim, legend: { right: 844, mx: 692.7, y: 65.7, dy: 25 },
  sub: 'prim', yTitleStart: 378
});

drawPanel({
  yDomain: [1e-8, 1e4], yRange: [1110, 627], yTicks: yTickExpsExp,
  os: osExp, l95: l95Exp, fits: fitsExp,
  letter: 'B', letterY: 642.7,
  legendItems: legendExp, legend: { right: 810.7, mx: 661.7, y: 666.7, dy: 25.6 },
  sub: 'exp', yTitleStart: 990
});
</script>
</body>
</html>
